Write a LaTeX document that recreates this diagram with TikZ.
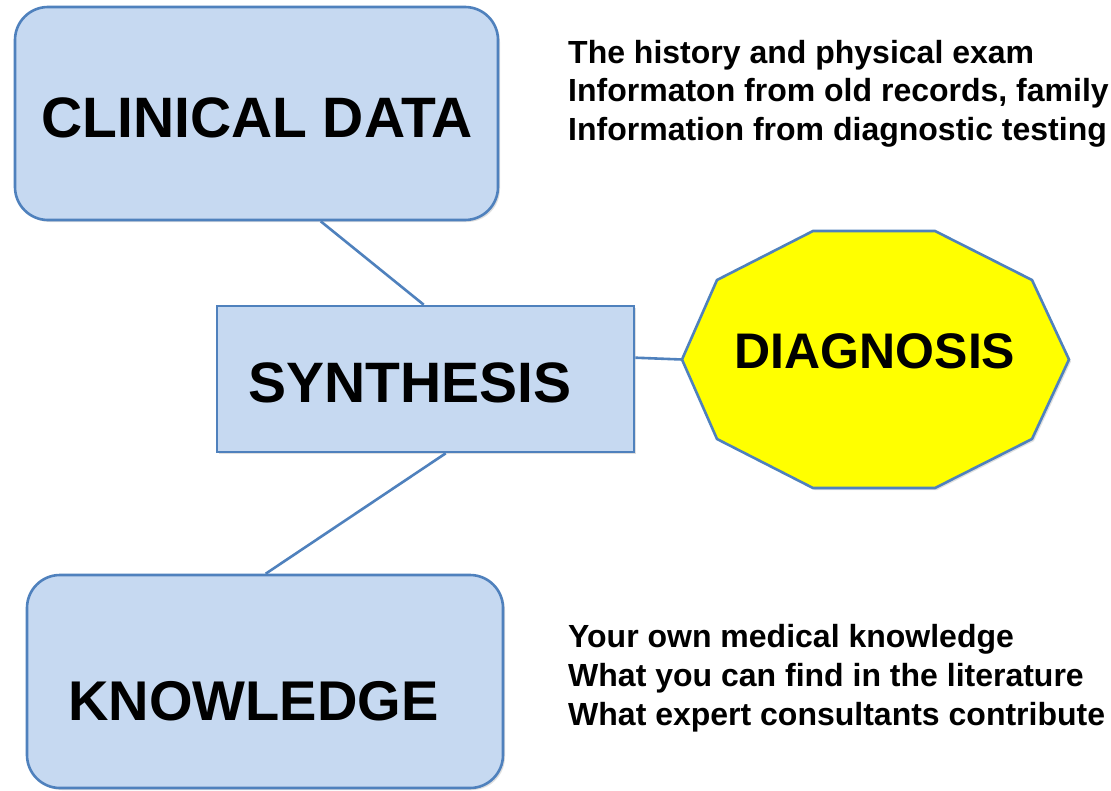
\documentclass[tikz,border=0pt]{standalone}
\usepackage{fontspec}
\setmainfont{Liberation Sans}
\usetikzlibrary{calc,shadows}
\definecolor{boxfill}{HTML}{C6D9F1}
\definecolor{boxline}{HTML}{4F81BD}
\definecolor{diagfill}{HTML}{FFFF00}
\begin{document}
\begin{tikzpicture}[x=1pt,y=-1pt,
  bluebox/.style={draw=boxline, fill=boxfill, line width=2.6pt, inner sep=0pt,
    drop shadow={opacity=0.25, shadow xshift=2pt, shadow yshift=-2pt}},
  bigtext/.style={font=\fontsize{57}{62}\selectfont\bfseries, anchor=base, inner sep=0pt},
  notetext/.style={font=\fontsize{32}{38}\selectfont\bfseries, anchor=base west, inner sep=0pt},
  link/.style={draw=boxline, line width=2.6pt}]
\useasboundingbox (0,0) rectangle (1111,790);
\fill[white] (0,0) rectangle (1111,790);

% boxes
\node[bluebox, rounded corners=33pt, minimum width=483pt, minimum height=213pt] (clin) at (256.5,113.5) {};
\node[bluebox, minimum width=417pt, minimum height=146pt] (syn) at (425.5,379) {};
\node[bluebox, rounded corners=33pt, minimum width=476pt, minimum height=213pt] (know) at (265,681.5) {};

% diagnosis decagon
\coordinate (dleft) at (682,359.5);
\draw[draw=boxline, fill=diagfill, line width=2.6pt,
    drop shadow={opacity=0.25, shadow xshift=2pt, shadow yshift=-2pt}]
  (dleft) -- (717,280) -- (813,231) -- (935,231) -- (1032,280) -- (1069,359.5)
  -- (1032,439) -- (935,488) -- (813,488) -- (717,439) -- cycle;

% labels
\node[bigtext] (clinlbl) at (257,137) {CLINICAL DATA};
\node[bigtext] (synlbl) at (410,402) {SYNTHESIS};
\node[bigtext, font=\fontsize{56}{61}\selectfont\bfseries] (knowlbl) at (253.5,720) {KNOWLEDGE};
\node[bigtext, font=\fontsize{50}{55}\selectfont\bfseries] (diag) at (875,368) {DIAGNOSIS};

% connectors
\draw[link] ($(clin.south west)+(307,0)$) -- ($(syn.north west)+(208,0)$);
\draw[link] ($(syn.south west)+(230,0)$) -- ($(know.north west)+(240,0)$);
\draw[link] ($(syn.north east)+(0,53)$) -- (dleft);

% notes
\node[notetext] (n1) at (568,63.5) {The history and physical exam};
\node[notetext] (n2) at (568,101.5) {Informaton from old records, family};
\node[notetext] (n3) at (568,140) {Information from diagnostic testing};
\node[notetext] (k1) at (568,647.5) {Your own medical knowledge};
\node[notetext] (k2) at (568,686) {What you can find in the literature};
\node[notetext] (k3) at (568,725) {What expert consultants contribute};
\end{tikzpicture}
\end{document}
